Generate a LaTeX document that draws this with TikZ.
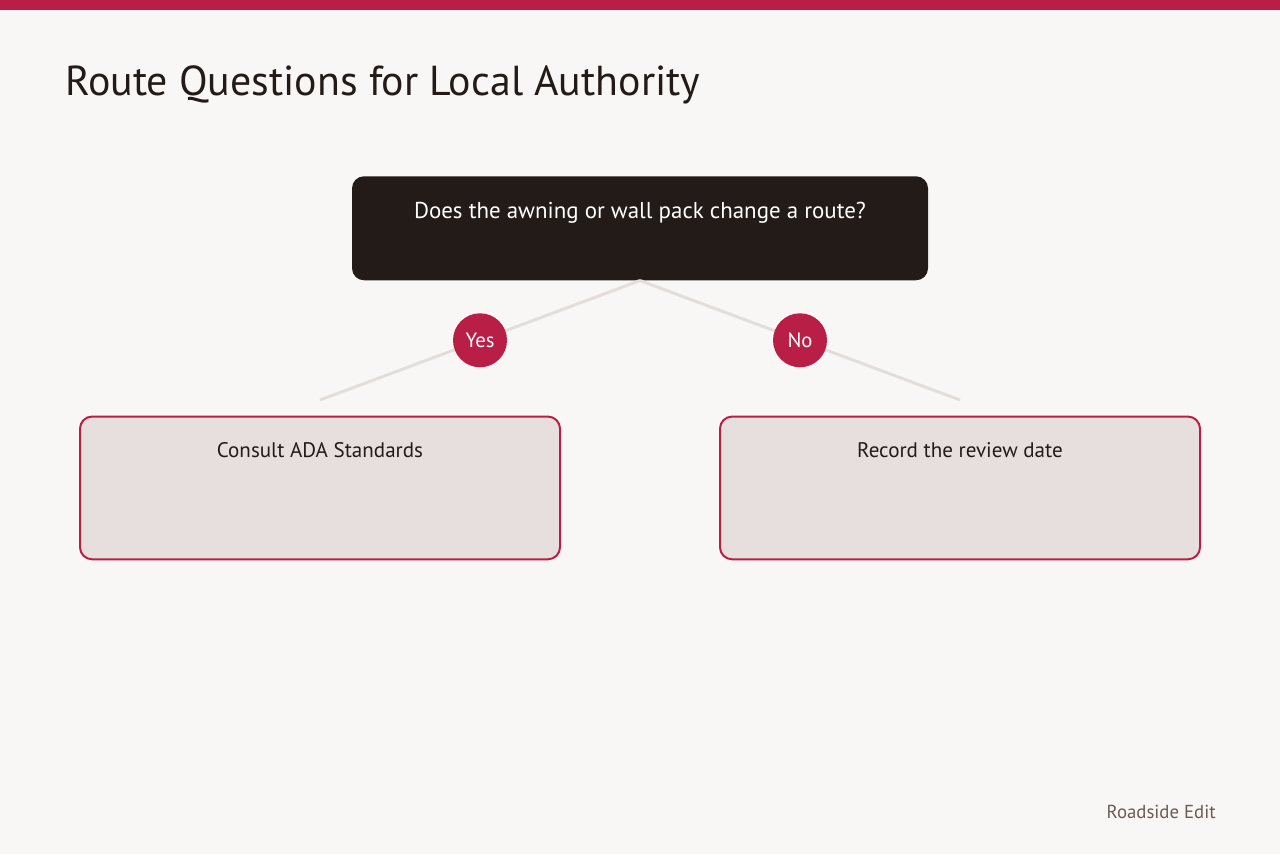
\documentclass[tikz,border=0pt]{standalone}
\usepackage{fontspec}
\setmainfont{PT Sans}
\usetikzlibrary{positioning}
\definecolor{paper}{HTML}{F9F7F5}
\definecolor{routered}{HTML}{B91E47}
\definecolor{ink}{HTML}{231B18}
\definecolor{boxfill}{HTML}{E7DFDD}
\definecolor{linkgray}{HTML}{E4DEDA}
\definecolor{footgray}{HTML}{6B5B55}
\begin{document}
\begin{tikzpicture}[x=0.75pt, y=-0.75pt,
  question/.style = {fill=ink, text=white, rounded corners=9pt, minimum width=432pt,
    inner sep=0pt, text height=31.5pt, text depth=46.5pt, font=\fontsize{17.2}{20}\selectfont},
  answer/.style = {draw=routered, line width=1.5pt, fill=boxfill, text=ink, rounded corners=9pt,
    minimum width=360pt, inner sep=0pt, text height=30.5pt, text depth=76.5pt, font=\fontsize{15.8}{18}\selectfont},
  choice/.style = {circle, fill=routered, text=white, minimum size=40.5pt, inner sep=0pt,
    font=\fontsize{15.5}{18}\selectfont},
  link/.style = {draw=linkgray, line width=2.25pt}]
\fill[paper] (0,0) rectangle (1280,854);
\fill[routered] (0,0) rectangle (1280,10);
\node[anchor=base west, text=ink, inner sep=0pt, font=\fontsize{31.4}{36}\selectfont] (title) at (65,95) {Route Questions for Local Authority};
\node[question, anchor=north] (q) at (640,176) {Does the awning or wall pack change a route?};
\node[answer, below=101.3pt of q, xshift=-240pt] (yes) {Consult ADA Standards};
\node[answer, below=101.3pt of q, xshift=240pt] (no) {Record the review date};
\coordinate (yesend) at (320,400);
\coordinate (noend) at (960,400);
\draw[link] (q.south) -- node[choice] (yestag) {Yes} (yesend);
\draw[link] (q.south) -- node[choice] (notag) {No} (noend);
\node[anchor=base east, text=footgray, inner sep=0pt, font=\fontsize{14.1}{16}\selectfont] (footer) at (1216,818) {Roadside Edit};
\end{tikzpicture}
\end{document}
